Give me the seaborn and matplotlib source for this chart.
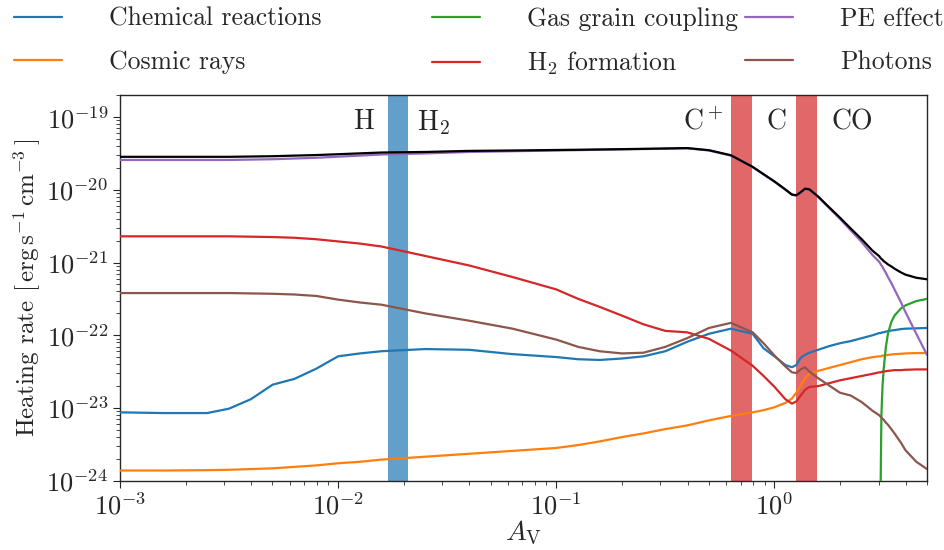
import numpy as np
import pandas as pd
import matplotlib
matplotlib.use("Agg")
import matplotlib.pyplot as plt
import matplotlib.transforms as mtransforms
import seaborn as sns

sns.set_style("ticks")
plt.rcParams["font.family"] = "serif"
plt.rcParams["font.serif"] = ["cmr10"]
plt.rcParams["mathtext.fontset"] = "cm"
plt.rcParams["axes.formatter.use_mathtext"] = True
plt.rcParams["axes.unicode_minus"] = False

# visual extinction grid
av = [0.001, 0.00158, 0.00251, 0.00316, 0.00398, 0.00501, 0.00631, 0.00794, 0.01, 0.0126,
      0.0158, 0.0251, 0.0398, 0.0631, 0.1, 0.126, 0.158, 0.2, 0.251, 0.316,
      0.398, 0.501, 0.631, 0.794, 0.891, 1.0, 1.122, 1.202, 1.259, 1.318,
      1.380, 1.445, 1.585, 1.778, 1.995, 2.239, 2.512, 2.818, 3.02, 3.062,
      3.09, 3.126, 3.162, 3.236, 3.311, 3.428, 3.548, 3.802, 3.981, 4.467, 5.0]

# log10 heating rates [erg s^-1 cm^-3]
chem_log = [-23.06, -23.07, -23.07, -23.01, -22.88, -22.68, -22.60, -22.46, -22.29, -22.25,
            -22.22, -22.19, -22.20, -22.26, -22.30, -22.33, -22.34, -22.32, -22.29, -22.22,
            -22.09, -21.98, -21.91, -21.98, -22.18, -22.29, -22.41, -22.44, -22.41, -22.31,
            -22.27, -22.24, -22.20, -22.15, -22.11, -22.08, -22.04, -22.00, -21.97, -21.97,
            -21.965, -21.96, -21.96, -21.95, -21.945, -21.935, -21.93, -21.915, -21.91, -21.905, -21.90]
cr_log = [-23.86, -23.86, -23.855, -23.85, -23.84, -23.83, -23.81, -23.79, -23.76, -23.74,
          -23.71, -23.67, -23.63, -23.59, -23.55, -23.51, -23.46, -23.40, -23.35, -23.29,
          -23.24, -23.17, -23.11, -23.06, -23.03, -22.99, -22.93, -22.87, -22.79, -22.69,
          -22.59, -22.53, -22.49, -22.45, -22.41, -22.37, -22.33, -22.30, -22.29, -22.29,
          -22.285, -22.28, -22.28, -22.275, -22.27, -22.265, -22.26, -22.255, -22.25, -22.245, -22.245]
gg_log = [np.nan] * 39 + [-24.2, -23.1, -22.70, -22.48, -22.17, -21.98,
                          -21.82, -21.73, -21.63, -21.59, -21.53, -21.50]
h2_log = [-20.64, -20.64, -20.64, -20.64, -20.645, -20.65, -20.66, -20.68, -20.71, -20.74,
          -20.78, -20.91, -21.04, -21.20, -21.37, -21.50, -21.61, -21.73, -21.85, -21.94,
          -21.96, -22.05, -22.21, -22.42, -22.56, -22.71, -22.88, -22.94, -22.91, -22.83,
          -22.75, -22.71, -22.70, -22.66, -22.62, -22.59, -22.56, -22.53, -22.51, -22.51,
          -22.505, -22.50, -22.50, -22.495, -22.49, -22.485, -22.48, -22.48, -22.475, -22.47, -22.47]
pe_log = [-19.59, -19.59, -19.59, -19.59, -19.585, -19.58, -19.57, -19.56, -19.545, -19.53,
          -19.515, -19.50, -19.48, -19.47, -19.46, -19.455, -19.45, -19.445, -19.44, -19.435,
          -19.43, -19.46, -19.53, -19.69, -19.79, -19.89, -20.00, -20.07, -20.08, -20.04,
          -19.99, -20.00, -20.10, -20.25, -20.40, -20.56, -20.72, -20.90, -20.99, -21.02,
          -21.04, -21.06, -21.09, -21.14, -21.20, -21.28, -21.37, -21.55, -21.68, -21.98, -22.27]
ph_log = [-21.42, -21.42, -21.42, -21.42, -21.425, -21.43, -21.44, -21.46, -21.51, -21.55,
          -21.58, -21.70, -21.80, -21.91, -22.06, -22.16, -22.22, -22.25, -22.24, -22.16,
          -22.04, -21.90, -21.83, -21.96, -22.11, -22.28, -22.43, -22.51, -22.52, -22.47,
          -22.44, -22.50, -22.59, -22.69, -22.79, -22.83, -22.92, -23.04, -23.10, -23.12,
          -23.13, -23.15, -23.16, -23.20, -23.23, -23.29, -23.35, -23.48, -23.58, -23.74, -23.84]

names = ["Chemical reactions", "Cosmic rays", "Gas grain coupling",
         r"H$_2$ formation", "PE effect", "Photons"]
series = [chem_log, cr_log, gg_log, h2_log, pe_log, ph_log]
colors = ["C0", "C1", "C2", "C3", "C4", "C5"]

# transition layers
h_band = [0.017, 0.021]
c_bands = [[0.63, 0.79], [1.26, 1.57]]
zones = ["H", r"H$_2$", r"C$^+$", "C", "CO"]
zone_x = [0.0131, 0.0273, 0.472, 1.02, 2.28]

yticks = [1e-24, 1e-23, 1e-22, 1e-21, 1e-20, 1e-19]

rates = {n: 10.0 ** np.array(s, dtype=float) for n, s in zip(names, series)}
total = np.nansum(np.vstack(list(rates.values())), axis=0)

fig = plt.figure(figsize=(9.44, 5.5), dpi=100)
ax = fig.add_axes([0.127, 0.126, 0.855, 0.701])

ax.axvspan(*h_band, color="C0", alpha=0.7, lw=0, zorder=1)
for b in c_bands:
    ax.axvspan(*b, color="C3", alpha=0.7, lw=0, zorder=1)

for n, c in zip(names, colors):
    df = pd.DataFrame({"av": av, "rate": rates[n]}).dropna()
    sns.lineplot(data=df, x="av", y="rate", color=c, lw=1.6, label=n,
                 sort=False, estimator=None, ax=ax, zorder=3)
sns.lineplot(x=av, y=total, color="black", lw=1.6, sort=False,
             estimator=None, ax=ax, zorder=4)
if ax.get_legend() is not None:
    ax.get_legend().remove()

ax.set_xscale("log")
ax.set_yscale("log")
ax.set_xlim(1e-3, 5.0)
ax.set_ylim(1e-24, 2e-19)
ax.set_yticks(yticks)
ax.set_xlabel(r"$A_\mathrm{V}$", fontsize=20, labelpad=0)
ax.set_ylabel(r"Heating rate $[\,\mathrm{erg\,s^{-1}\,cm^{-3}}\,]$", fontsize=18, labelpad=2)
ax.tick_params(axis="both", which="major", labelsize=19, direction="out", length=5)
ax.tick_params(axis="both", which="minor", direction="out", length=3)
for s in ax.spines.values():
    s.set_linewidth(1.0)
    s.set_visible(True)

trans = mtransforms.blended_transform_factory(ax.transData, ax.transAxes)
for t, x in zip(zones, zone_x):
    ax.text(x, 0.93, t, transform=trans, ha="center", va="center", fontsize=20)

handles, labels = ax.get_legend_handles_labels()
hmap = dict(zip(labels, handles))
col_x = [14 / 944, 432 / 944, 745 / 944]
for i, x0 in enumerate(col_x):
    pair = names[2 * i:2 * i + 2]
    fig.legend([hmap[p] for p in pair], pair, loc="upper left",
               bbox_to_anchor=(x0, 1 - 7 / 550), frameon=False, fontsize=18.5,
               borderpad=0, borderaxespad=0, handlelength=1.85,
               handletextpad=1.85, labelspacing=0.75)

fig.savefig("out.png", dpi=100)
